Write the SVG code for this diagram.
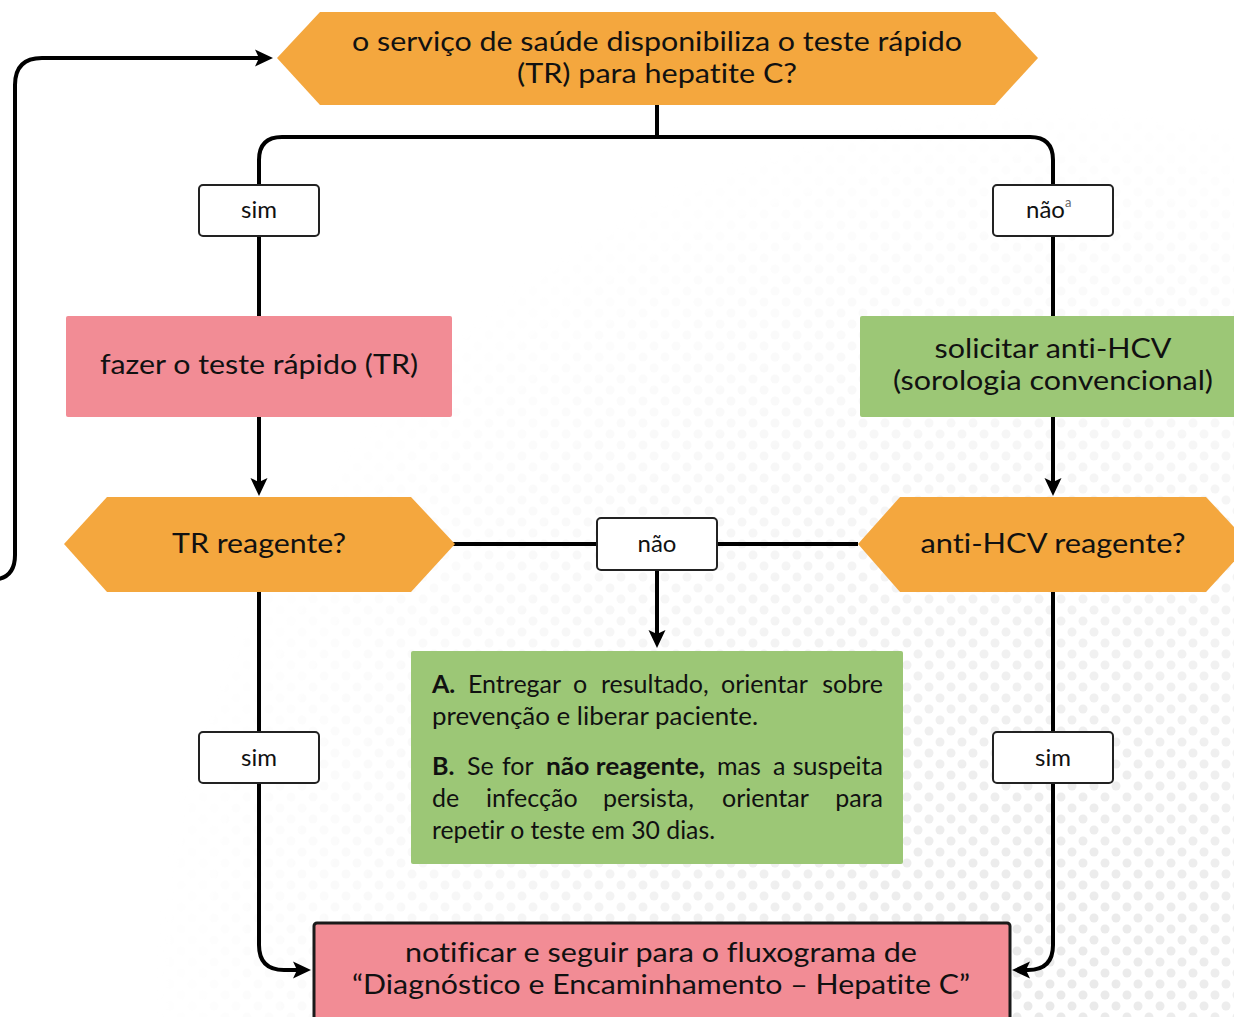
<svg xmlns="http://www.w3.org/2000/svg" width="1234" height="1017" viewBox="0 0 1234 1017">
<defs>
<style>
.t{font-family:Lato,"Noto Sans","Liberation Sans",sans-serif;fill:#111;font-variant-ligatures:none;font-feature-settings:"liga" 0;}
.c{text-anchor:middle;}
.e{text-anchor:end;}
.big{font-size:27px;}
.mid{font-size:25px;}
.lbl{font-size:24px;}
.b{font-weight:bold;}
.ln{fill:none;stroke:#000;stroke-width:4;stroke-linejoin:round;}
.box{fill:#fff;stroke:#222;stroke-width:2;}
.or{fill:#F4A73E;}
.pk{fill:#F28C95;}
.gr{fill:#9CC776;}
</style>
<marker id="arr" viewBox="0 0 18 18" refX="8" refY="9" markerWidth="18" markerHeight="18" markerUnits="userSpaceOnUse" orient="auto">
<path d="M0,0.5 L18,9 L0,17.5 L4,9 Z" fill="#000"/>
</marker>
<pattern id="dots" width="22" height="22" patternUnits="userSpaceOnUse">
<circle cx="5" cy="5" r="4.5" fill="#e9e9e9"/>
<circle cx="16" cy="16" r="4.5" fill="#e9e9e9"/>
</pattern>
<radialGradient id="fade" gradientUnits="userSpaceOnUse" cx="1050" cy="1000" r="900">
<stop offset="0" stop-color="#fff" stop-opacity="1"/>
<stop offset="0.45" stop-color="#fff" stop-opacity="0.6"/>
<stop offset="1" stop-color="#fff" stop-opacity="0"/>
</radialGradient>
<mask id="m"><rect x="0" y="0" width="1234" height="1017" fill="url(#fade)"/></mask>
</defs>
<rect x="0" y="0" width="1234" height="1017" fill="#fff"/>
<rect x="0" y="0" width="1234" height="1017" fill="url(#dots)" mask="url(#m)"/>

<g id="connectors">
<path class="ln" d="M657,105 V137"/>
<path class="ln" d="M259,185 V160 Q259,137 282,137 H1030 Q1053,137 1053,160 V185"/>
<path class="ln" d="M259,236 V316"/>
<path class="ln" d="M1053,236 V316"/>
<path class="ln" d="M259,417 V486" marker-end="url(#arr)"/>
<path class="ln" d="M1053,417 V486" marker-end="url(#arr)"/>
<path class="ln" d="M453,544 H597"/>
<path class="ln" d="M717,544 H858"/>
<path class="ln" d="M657,571 V638" marker-end="url(#arr)"/>
<path class="ln" d="M259,592 V945 Q259,970 284,970 H301" marker-end="url(#arr)"/>
<path class="ln" d="M1053,592 V945 Q1053,970 1028,970 H1022" marker-end="url(#arr)"/>
<path class="ln" d="M-10,580 Q15,580 15,555 V85 Q15,58 42,58 H263" marker-end="url(#arr)"/>
</g>

<g id="q-servico">
<polygon class="or" points="277,58 320,12 995,12 1038,58 995,105 320,105"/>
<text class="t c big" x="657" y="51" textLength="610" lengthAdjust="spacingAndGlyphs">o serviço de saúde disponibiliza o teste rápido</text>
<text class="t c big" x="657" y="83" textLength="280" lengthAdjust="spacingAndGlyphs">(TR) para hepatite C?</text>
</g>

<g id="lbl-sim-top">
<rect class="box" x="199" y="185" width="120" height="51" rx="4"/>
<text class="t c lbl" x="259" y="218">sim</text>
</g>

<g id="lbl-nao-top">
<rect class="box" x="993" y="185" width="120" height="51" rx="4"/>
<text class="t lbl" x="1026" y="218">não<tspan font-size="13" dy="-11" fill="#666">a</tspan></text>
</g>

<g id="fazer-tr">
<rect class="pk" x="66" y="316" width="386" height="101" rx="2"/>
<text class="t c big" x="259" y="374" textLength="318" lengthAdjust="spacingAndGlyphs">fazer o teste rápido (TR)</text>
</g>

<g id="solicitar">
<rect class="gr" x="860" y="316" width="380" height="101" rx="2"/>
<text class="t c big" x="1053" y="358" textLength="237" lengthAdjust="spacingAndGlyphs">solicitar anti-HCV</text>
<text class="t c big" x="1053" y="390" textLength="320" lengthAdjust="spacingAndGlyphs">(sorologia convencional)</text>
</g>

<g id="q-tr">
<polygon class="or" points="64,544 107,497 411,497 455,544 411,592 107,592"/>
<text class="t c big" x="259" y="553" textLength="174" lengthAdjust="spacingAndGlyphs">TR reagente?</text>
</g>

<g id="q-anti">
<polygon class="or" points="858,544 900,497 1206,497 1250,544 1206,592 900,592"/>
<text class="t c big" x="1053" y="553" textLength="265" lengthAdjust="spacingAndGlyphs">anti-HCV reagente?</text>
</g>

<g id="lbl-nao-mid">
<rect class="box" x="597" y="518" width="120" height="52" rx="4"/>
<text class="t c lbl" x="657" y="552">não</text>
</g>

<g id="resultado">
<rect class="gr" x="411" y="651" width="492" height="213" rx="2"/>
<text class="t mid" y="693"><tspan class="b" x="432">A.</tspan><tspan x="468">Entregar</tspan><tspan x="573">o</tspan><tspan x="601">resultado,</tspan><tspan x="721">orientar</tspan><tspan class="e" x="883">sobre</tspan></text>
<text class="t mid" x="432" y="725" textLength="326" lengthAdjust="spacingAndGlyphs">prevenção e liberar paciente.</text>
<text class="t mid" y="775"><tspan class="b" x="432">B.</tspan><tspan x="467">Se</tspan><tspan x="502">for</tspan><tspan class="b" x="546" textLength="159" lengthAdjust="spacingAndGlyphs">não reagente,</tspan><tspan x="717">mas</tspan><tspan x="773">a</tspan><tspan class="e" x="883">suspeita</tspan></text>
<text class="t mid" y="807"><tspan x="432">de</tspan><tspan x="486">infecção</tspan><tspan x="603">persista,</tspan><tspan x="722">orientar</tspan><tspan class="e" x="883">para</tspan></text>
<text class="t mid" x="432" y="839" textLength="283" lengthAdjust="spacingAndGlyphs">repetir o teste em 30 dias.</text>
</g>

<g id="lbl-sim-left">
<rect class="box" x="199" y="732" width="120" height="51" rx="4"/>
<text class="t c lbl" x="259" y="766">sim</text>
</g>

<g id="lbl-sim-right">
<rect class="box" x="993" y="732" width="120" height="51" rx="4"/>
<text class="t c lbl" x="1053" y="766">sim</text>
</g>

<g id="notificar">
<rect class="pk" x="314" y="923" width="696" height="110" rx="3" stroke="#1a1a1a" stroke-width="3"/>
<text class="t c big" x="661" y="962" textLength="512" lengthAdjust="spacingAndGlyphs">notificar e seguir para o fluxograma de</text>
<text class="t c big" x="661" y="994" textLength="618" lengthAdjust="spacingAndGlyphs">“Diagnóstico e Encaminhamento – Hepatite C”</text>
</g>
</svg>
